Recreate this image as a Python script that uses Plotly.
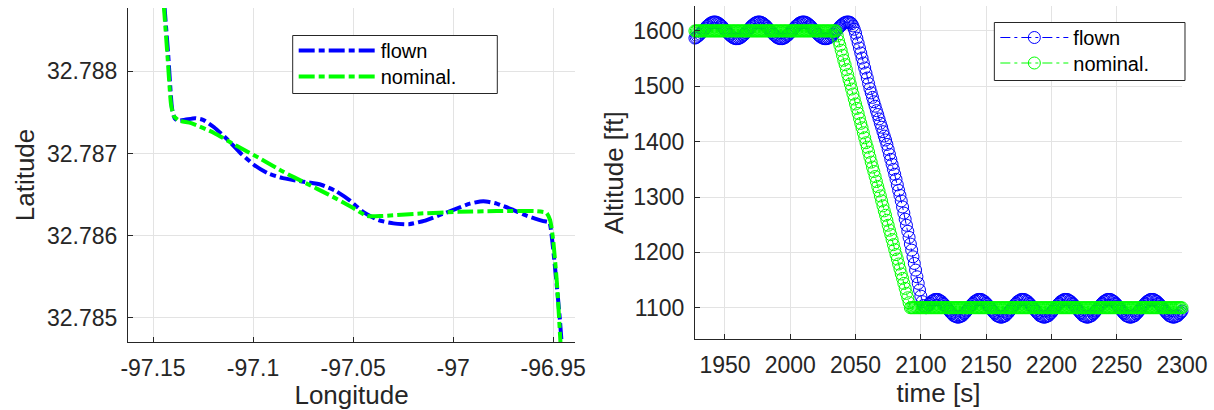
import plotly.graph_objects as go

# ---------------- data: left panel (ground track) ----------------
lon_flown = [-97.1443, -97.1424, -97.1405, -97.1392, -97.1378, -97.1340, -97.1290, -97.1250,
             -97.1195, -97.1128, -97.1061, -97.0994, -97.0927, -97.0851, -97.0756, -97.0660,
             -97.0584, -97.0517, -97.0450, -97.0374, -97.0298, -97.0221, -97.0145, -97.0069,
             -96.9992, -96.9916, -96.9849, -96.9782, -96.9706, -96.9630, -96.9553, -96.9519,
             -96.9505, -96.9486, -96.9466, -96.9455]
lat_flown = [32.78880, 32.78820, 32.78755, 32.78743, 32.78740, 32.78741, 32.78743, 32.78741,
             32.78732, 32.78717, 32.78700, 32.78686, 32.78676, 32.78670, 32.78666, 32.78662,
             32.78654, 32.78643, 32.78629, 32.78619, 32.78615, 32.78614, 32.78618, 32.78625,
             32.78632, 32.78639, 32.78642, 32.78639, 32.78632, 32.78624, 32.78618, 32.78616,
             32.78595, 32.78550, 32.78497, 32.78460]

lon_nominal = [-97.1446, -97.1428, -97.1410, -97.1397, -97.1370, -97.1309, -97.1195, -97.1080,
               -97.0966, -97.0851, -97.0737, -97.0622, -97.0508, -97.0431, -97.0355, -97.0164,
               -96.9973, -96.9782, -96.9592, -96.9534, -96.9515, -96.9500, -96.9481, -96.9461]
lat_nominal = [32.78880, 32.78820, 32.78760, 32.78746, 32.78740, 32.78737, 32.78725, 32.78709,
               32.78694, 32.78678, 32.78664, 32.78650, 32.78635, 32.78624, 32.78624, 32.78627,
               32.78629, 32.78630, 32.78630, 32.78628, 32.78619, 32.78595, 32.78542, 32.78460]

lon_ticks = [-97.15, -97.1, -97.05, -97.0, -96.95]
lon_ticklabels = ["-97.15", "-97.1", "-97.05", "-97", "-96.95"]
lat_ticks = [32.785, 32.786, 32.787, 32.788]
lat_ticklabels = ["32.785", "32.786", "32.787", "32.788"]

# ---------------- data: right panel (altitude profile, 1 s samples) ----------------
time_s = [
    1927, 1928, 1929, 1930, 1931, 1932, 1933, 1934, 1935, 1936,
    1937, 1938, 1939, 1940, 1941, 1942, 1943, 1944, 1945, 1946,
    1947, 1948, 1949, 1950, 1951, 1952, 1953, 1954, 1955, 1956,
    1957, 1958, 1959, 1960, 1961, 1962, 1963, 1964, 1965, 1966,
    1967, 1968, 1969, 1970, 1971, 1972, 1973, 1974, 1975, 1976,
    1977, 1978, 1979, 1980, 1981, 1982, 1983, 1984, 1985, 1986,
    1987, 1988, 1989, 1990, 1991, 1992, 1993, 1994, 1995, 1996,
    1997, 1998, 1999, 2000, 2001, 2002, 2003, 2004, 2005, 2006,
    2007, 2008, 2009, 2010, 2011, 2012, 2013, 2014, 2015, 2016,
    2017, 2018, 2019, 2020, 2021, 2022, 2023, 2024, 2025, 2026,
    2027, 2028, 2029, 2030, 2031, 2032, 2033, 2034, 2035, 2036,
    2037, 2038, 2039, 2040, 2041, 2042, 2043, 2044, 2045, 2046,
    2047, 2048, 2049, 2050, 2051, 2052, 2053, 2054, 2055, 2056,
    2057, 2058, 2059, 2060, 2061, 2062, 2063, 2064, 2065, 2066,
    2067, 2068, 2069, 2070, 2071, 2072, 2073, 2074, 2075, 2076,
    2077, 2078, 2079, 2080, 2081, 2082, 2083, 2084, 2085, 2086,
    2087, 2088, 2089, 2090, 2091, 2092, 2093, 2094, 2095, 2096,
    2097, 2098, 2099, 2100, 2101, 2102, 2103, 2104, 2105, 2106,
    2107, 2108, 2109, 2110, 2111, 2112, 2113, 2114, 2115, 2116,
    2117, 2118, 2119, 2120, 2121, 2122, 2123, 2124, 2125, 2126,
    2127, 2128, 2129, 2130, 2131, 2132, 2133, 2134, 2135, 2136,
    2137, 2138, 2139, 2140, 2141, 2142, 2143, 2144, 2145, 2146,
    2147, 2148, 2149, 2150, 2151, 2152, 2153, 2154, 2155, 2156,
    2157, 2158, 2159, 2160, 2161, 2162, 2163, 2164, 2165, 2166,
    2167, 2168, 2169, 2170, 2171, 2172, 2173, 2174, 2175, 2176,
    2177, 2178, 2179, 2180, 2181, 2182, 2183, 2184, 2185, 2186,
    2187, 2188, 2189, 2190, 2191, 2192, 2193, 2194, 2195, 2196,
    2197, 2198, 2199, 2200, 2201, 2202, 2203, 2204, 2205, 2206,
    2207, 2208, 2209, 2210, 2211, 2212, 2213, 2214, 2215, 2216,
    2217, 2218, 2219, 2220, 2221, 2222, 2223, 2224, 2225, 2226,
    2227, 2228, 2229, 2230, 2231, 2232, 2233, 2234, 2235, 2236,
    2237, 2238, 2239, 2240, 2241, 2242, 2243, 2244, 2245, 2246,
    2247, 2248, 2249, 2250, 2251, 2252, 2253, 2254, 2255, 2256,
    2257, 2258, 2259, 2260, 2261, 2262, 2263, 2264, 2265, 2266,
    2267, 2268, 2269, 2270, 2271, 2272, 2273, 2274, 2275, 2276,
    2277, 2278, 2279, 2280, 2281, 2282, 2283, 2284, 2285, 2286,
    2287, 2288, 2289, 2290, 2291, 2292, 2293, 2294, 2295, 2296,
    2297, 2298, 2299, 2300]

alt_flown = [
    1587, 1588, 1590, 1592, 1594, 1597, 1600, 1602, 1605, 1608,
    1610, 1612, 1614, 1615, 1616, 1616, 1616, 1615, 1614, 1612,
    1610, 1608, 1605, 1602, 1600, 1597, 1594, 1592, 1590, 1588,
    1587, 1586, 1586, 1586, 1587, 1588, 1590, 1592, 1594, 1597,
    1600, 1602, 1605, 1608, 1610, 1612, 1614, 1615, 1616, 1616,
    1616, 1615, 1614, 1612, 1610, 1608, 1605, 1602, 1600, 1597,
    1594, 1592, 1590, 1588, 1587, 1586, 1586, 1586, 1587, 1588,
    1590, 1592, 1594, 1597, 1600, 1602, 1605, 1608, 1610, 1612,
    1614, 1615, 1616, 1616, 1616, 1615, 1614, 1612, 1610, 1608,
    1605, 1602, 1600, 1597, 1594, 1592, 1590, 1588, 1587, 1586,
    1586, 1586, 1587, 1588, 1590, 1592, 1594, 1597, 1600, 1602,
    1605, 1608, 1610, 1612, 1614, 1615, 1616, 1616, 1616, 1615,
    1613, 1609, 1603, 1596, 1587, 1578, 1569, 1560, 1551, 1542,
    1533, 1524, 1515, 1505, 1496, 1488, 1480, 1472, 1464, 1456,
    1449, 1441, 1433, 1426, 1418, 1410, 1403, 1395, 1386, 1377,
    1368, 1359, 1350, 1341, 1332, 1322, 1312, 1303, 1293, 1282,
    1271, 1260, 1249, 1238, 1227, 1215, 1204, 1192, 1180, 1168,
    1156, 1144, 1132, 1121, 1111, 1104, 1101, 1100, 1103, 1106,
    1108, 1111, 1112, 1114, 1115, 1115, 1115, 1114, 1112, 1111,
    1108, 1106, 1103, 1100, 1097, 1094, 1091, 1089, 1086, 1085,
    1084, 1083, 1083, 1084, 1085, 1086, 1089, 1091, 1094, 1097,
    1100, 1103, 1106, 1108, 1111, 1112, 1114, 1115, 1115, 1115,
    1114, 1112, 1111, 1108, 1106, 1103, 1100, 1097, 1094, 1091,
    1089, 1086, 1085, 1084, 1083, 1083, 1084, 1085, 1086, 1089,
    1091, 1094, 1097, 1100, 1103, 1106, 1108, 1111, 1112, 1114,
    1115, 1115, 1115, 1114, 1112, 1111, 1108, 1106, 1103, 1100,
    1097, 1094, 1091, 1089, 1086, 1085, 1084, 1083, 1083, 1084,
    1085, 1086, 1089, 1091, 1094, 1097, 1100, 1103, 1106, 1108,
    1111, 1112, 1114, 1115, 1115, 1115, 1114, 1112, 1111, 1108,
    1106, 1103, 1100, 1097, 1094, 1091, 1089, 1086, 1085, 1084,
    1083, 1083, 1084, 1085, 1086, 1089, 1091, 1094, 1097, 1100,
    1103, 1106, 1108, 1111, 1112, 1114, 1115, 1115, 1115, 1114,
    1112, 1111, 1108, 1106, 1103, 1100, 1097, 1094, 1091, 1089,
    1086, 1085, 1084, 1083, 1083, 1084, 1085, 1086, 1089, 1091,
    1094, 1097, 1100, 1103, 1106, 1108, 1111, 1112, 1114, 1115,
    1115, 1115, 1114, 1112, 1111, 1108, 1106, 1103, 1100, 1097,
    1094, 1091, 1089, 1086, 1085, 1084, 1083, 1083, 1084, 1085,
    1086, 1089, 1091, 1094]

alt_nominal = [
    1600, 1600, 1600, 1600, 1600, 1600, 1600, 1600, 1600, 1600,
    1600, 1600, 1600, 1600, 1600, 1600, 1600, 1600, 1600, 1600,
    1600, 1600, 1600, 1600, 1600, 1600, 1600, 1600, 1600, 1600,
    1600, 1600, 1600, 1600, 1600, 1600, 1600, 1600, 1600, 1600,
    1600, 1600, 1600, 1600, 1600, 1600, 1600, 1600, 1600, 1600,
    1600, 1600, 1600, 1600, 1600, 1600, 1600, 1600, 1600, 1600,
    1600, 1600, 1600, 1600, 1600, 1600, 1600, 1600, 1600, 1600,
    1600, 1600, 1600, 1600, 1600, 1600, 1600, 1600, 1600, 1600,
    1600, 1600, 1600, 1600, 1600, 1600, 1600, 1600, 1600, 1600,
    1600, 1600, 1600, 1600, 1600, 1600, 1600, 1600, 1600, 1600,
    1600, 1600, 1600, 1600, 1600, 1600, 1600, 1600, 1600, 1591,
    1582, 1574, 1565, 1556, 1547, 1539, 1530, 1521, 1512, 1504,
    1495, 1486, 1477, 1468, 1460, 1451, 1442, 1433, 1425, 1416,
    1407, 1398, 1390, 1381, 1372, 1363, 1354, 1346, 1337, 1328,
    1319, 1311, 1302, 1293, 1284, 1275, 1267, 1258, 1249, 1240,
    1232, 1223, 1214, 1205, 1196, 1188, 1179, 1170, 1161, 1153,
    1144, 1135, 1126, 1118, 1109, 1100, 1100, 1100, 1100, 1100,
    1100, 1100, 1100, 1100, 1100, 1100, 1100, 1100, 1100, 1100,
    1100, 1100, 1100, 1100, 1100, 1100, 1100, 1100, 1100, 1100,
    1100, 1100, 1100, 1100, 1100, 1100, 1100, 1100, 1100, 1100,
    1100, 1100, 1100, 1100, 1100, 1100, 1100, 1100, 1100, 1100,
    1100, 1100, 1100, 1100, 1100, 1100, 1100, 1100, 1100, 1100,
    1100, 1100, 1100, 1100, 1100, 1100, 1100, 1100, 1100, 1100,
    1100, 1100, 1100, 1100, 1100, 1100, 1100, 1100, 1100, 1100,
    1100, 1100, 1100, 1100, 1100, 1100, 1100, 1100, 1100, 1100,
    1100, 1100, 1100, 1100, 1100, 1100, 1100, 1100, 1100, 1100,
    1100, 1100, 1100, 1100, 1100, 1100, 1100, 1100, 1100, 1100,
    1100, 1100, 1100, 1100, 1100, 1100, 1100, 1100, 1100, 1100,
    1100, 1100, 1100, 1100, 1100, 1100, 1100, 1100, 1100, 1100,
    1100, 1100, 1100, 1100, 1100, 1100, 1100, 1100, 1100, 1100,
    1100, 1100, 1100, 1100, 1100, 1100, 1100, 1100, 1100, 1100,
    1100, 1100, 1100, 1100, 1100, 1100, 1100, 1100, 1100, 1100,
    1100, 1100, 1100, 1100, 1100, 1100, 1100, 1100, 1100, 1100,
    1100, 1100, 1100, 1100, 1100, 1100, 1100, 1100, 1100, 1100,
    1100, 1100, 1100, 1100, 1100, 1100, 1100, 1100, 1100, 1100,
    1100, 1100, 1100, 1100, 1100, 1100, 1100, 1100, 1100, 1100,
    1100, 1100, 1100, 1100, 1100, 1100, 1100, 1100, 1100, 1100,
    1100, 1100, 1100, 1100]

time_ticks = [1950, 2000, 2050, 2100, 2150, 2200, 2250, 2300]
alt_ticks = [1100, 1200, 1300, 1400, 1500, 1600]

series_names = ["flown", "nominal."]

# ---------------- styling ----------------
BLUE = "#0000ff"
GREEN = "#00ff00"
AX = "#262626"
GRID = "#e3e3e3"
FONT = "Liberation Sans, Arial, Helvetica, sans-serif"

W, H = 1214, 410
ML, MR, MT, MB = 128, 30, 6, 68
PW, PH = W - ML - MR, H - MT - MB


def px_x(p):
    return (p - ML) / PW


def px_y(p):
    return (H - MB - p) / PH


fig = go.Figure()

fig.add_trace(go.Scatter(
    x=lon_flown, y=lat_flown, mode="lines", name=series_names[0], showlegend=True,
    line=dict(color=BLUE, width=4, dash="16px,4px,6px,4px", shape="spline", smoothing=0.5),
    xaxis="x", yaxis="y", legend="legend"))
fig.add_trace(go.Scatter(
    x=lon_nominal, y=lat_nominal, mode="lines", name=series_names[1], showlegend=True,
    line=dict(color=GREEN, width=4, dash="16px,4px,6px,4px", shape="spline", smoothing=0.5),
    xaxis="x", yaxis="y", legend="legend3"))

fig.add_trace(go.Scatter(
    x=time_s, y=alt_flown, mode="lines+markers", name=series_names[0], showlegend=True,
    line=dict(color=BLUE, width=1, dash="10px,4px,3px,4px"),
    marker=dict(symbol="circle-open", size=12, color=BLUE, line=dict(width=1, color=BLUE)),
    cliponaxis=False, xaxis="x2", yaxis="y2", legend="legend2"))
fig.add_trace(go.Scatter(
    x=time_s, y=alt_nominal, mode="lines+markers", name=series_names[1], showlegend=True,
    line=dict(color=GREEN, width=1, dash="10px,4px,3px,4px"),
    marker=dict(symbol="circle-open", size=12, color=GREEN, line=dict(width=1, color=GREEN)),
    cliponaxis=False, xaxis="x2", yaxis="y2", legend="legend4"))

axis_common = dict(
    showline=True, linecolor=AX, linewidth=1, mirror=False,
    ticks="inside", ticklen=5, tickwidth=1, tickcolor=AX,
    showgrid=True, gridcolor=GRID, gridwidth=1, zeroline=False,
    tickfont=dict(size=23, color=AX, family=FONT),
    ticklabelstandoff=5,
)
title_font = dict(size=26, color=AX, family=FONT)
legend_font = dict(size=20, color="black", family=FONT)

# legend frames (drawn behind the legend entries, in paper coordinates)
legend_boxes = [
    dict(x0=px_x(293), x1=px_x(498), y0=px_y(93.5), y1=px_y(35.5)),
    dict(x0=px_x(996), x1=px_x(1187), y0=px_y(80.5), y1=px_y(22.5)),
]
shapes = [dict(type="rect", xref="paper", yref="paper", layer="above",
               fillcolor="white", line=dict(color=AX, width=1), **b) for b in legend_boxes]


def entry_legend(x_px, y_px, item_w):
    return dict(visible=True, x=px_x(x_px), y=px_y(y_px), xanchor="left", yanchor="middle",
                bgcolor="rgba(0,0,0,0)", borderwidth=0,
                font=legend_font, itemwidth=item_w, tracegroupgap=0)


fig.update_layout(
    width=W, height=H,
    showlegend=True,
    margin=dict(l=ML, r=MR, t=MT, b=MB, pad=0),
    paper_bgcolor="white", plot_bgcolor="white",
    font=dict(family=FONT, color=AX),
    shapes=shapes,
    xaxis=dict(axis_common, domain=[0, px_x(576)], range=[-97.1625, -96.939],
               tickvals=lon_ticks, ticktext=lon_ticklabels, anchor="y",
               title=dict(text="Longitude", font=title_font, standoff=2)),
    yaxis=dict(axis_common, domain=[0, px_y(8)], range=[32.784707, 32.78877],
               tickvals=lat_ticks, ticktext=lat_ticklabels, anchor="x",
               title=dict(text="Latitude", font=title_font, standoff=4)),
    xaxis2=dict(axis_common, domain=[px_x(696), 1], range=[1927, 2300],
                tickvals=time_ticks, anchor="y2",
                title=dict(text="time [s]", font=title_font, standoff=2)),
    yaxis2=dict(axis_common, domain=[px_y(339.3), 1], range=[1043, 1645],
                tickvals=alt_ticks, anchor="x2",
                title=dict(text="Altitude [ft]", font=title_font, standoff=2)),
    legend=entry_legend(294, 50.5, 77),
    legend3=entry_legend(294, 76.5, 77),
    legend2=entry_legend(997, 37.5, 68),
    legend4=entry_legend(997, 63.0, 68),
)

fig.write_html("out.html")
